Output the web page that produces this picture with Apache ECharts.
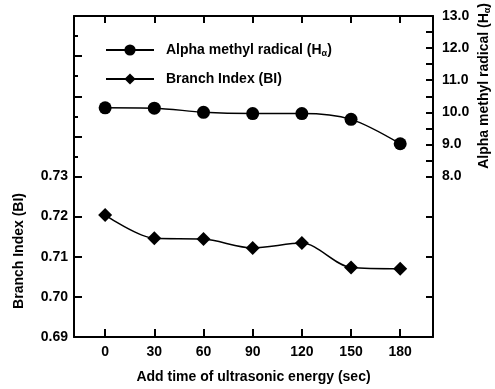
<!DOCTYPE html>
<html>
<head>
<meta charset="utf-8">
<script src="https://cdn.jsdelivr.net/npm/echarts@6/dist/echarts.min.js"></script>
<style>html,body{margin:0;padding:0;background:#fff}#c{width:495px;height:389px}</style>
</head>
<body>
<div id="c"></div>
<script>
const times = [0, 30, 60, 90, 120, 150, 180];
const alphaMethyl = [10.14, 10.13, 10.0, 9.96, 9.96, 9.78, 9.02];
const branchIndex = [0.7204, 0.7146, 0.7144, 0.7122, 0.7134, 0.7073, 0.7070];
const leftTickLabels = [0.69, 0.70, 0.71, 0.72, 0.73];
const rightTickLabels = [8, 9, 10, 11, 12, 13];
const leftTicks = [0.69, 0.70, 0.71, 0.72, 0.73, 0.74, 0.75, 0.76, 0.77];
const leftMinorTicks = [0.735, 0.745, 0.755, 0.765];
const rightTicks = [4.25, 5.5, 6.75, 8, 8.5, 9, 9.5, 10, 10.5, 11, 11.5, 12, 12.5, 13];
const seriesNames = ['Alpha methyl radical', 'Branch Index (BI)'];

const FONT = 'Liberation Sans';
const chart = echarts.init(document.getElementById('c'), null, {renderer: 'canvas'});
const axisLine = {show: true, onZero: false, lineStyle: {color: '#000', width: 2}};
const txt = {fontFamily: FONT, fontWeight: 'bold', fontSize: 14, color: '#000'};
const noTick = {show: false};
// helper axes that only draw inward ticks (line and labels hidden)
const tickAxis = (min, max, pos, len, vals) => ({
  type: 'value', min: min, max: max, position: pos,
  axisLine: {show: false, onZero: false}, splitLine: {show: false}, axisLabel: {show: false},
  axisTick: {show: true, inside: true, length: len, lineStyle: {color: '#000', width: 2}, customValues: vals}
});

chart.setOption({
  animation: false,
  backgroundColor: '#fff',
  grid: {left: 74, right: 62, top: 16, bottom: 47},
  legend: {
    orient: 'vertical', left: 100, top: 38, itemWidth: 48, itemHeight: 14, itemGap: 14,
    data: seriesNames,
    formatter: function (n) { return n === seriesNames[0] ? 'Alpha methyl radical (H{sub|α})' : n; },
    textStyle: Object.assign({}, txt, {fontSize: 14, padding: [0, 0, 0, 7],
      rich: {sub: {fontFamily: FONT, fontWeight: 'bold', fontSize: 9, padding: [7, 0, 0, 0], color: '#000'}}})
  },
  xAxis: [{
    type: 'value', min: -19, max: 200, position: 'bottom',
    axisLine: axisLine, splitLine: {show: false}, axisTick: noTick,
    axisLabel: Object.assign({}, txt, {customValues: times, margin: 8}),
    name: 'Add time of ultrasonic energy (sec)', nameLocation: 'middle', nameGap: 33,
    nameTextStyle: txt
  }, {
    type: 'value', min: -19, max: 200, position: 'top',
    axisLine: axisLine, splitLine: {show: false}, axisTick: noTick,
    axisLabel: {show: false}
  },
  tickAxis(-19, 200, 'bottom', 8, times),
  tickAxis(-19, 200, 'top', 7, times)],
  yAxis: [{
    type: 'value', min: 0.69, max: 0.77, position: 'left',
    axisLine: axisLine, splitLine: {show: false}, axisTick: noTick,
    axisLabel: Object.assign({}, txt, {customValues: leftTickLabels, margin: 6,
      formatter: v => v.toFixed(2)})
  }, {
    type: 'value', min: 3, max: 13, position: 'right',
    axisLine: axisLine, splitLine: {show: false}, axisTick: noTick,
    axisLabel: Object.assign({}, txt, {customValues: rightTickLabels, margin: 9,
      formatter: v => v.toFixed(1)})
  },
  tickAxis(0.69, 0.77, 'left', 8, leftTicks),
  tickAxis(0.69, 0.77, 'left', 4, leftMinorTicks),
  tickAxis(3, 13, 'right', 7, rightTicks)],
  graphic: [{
    type: 'text', left: 12, top: 193, rotation: Math.PI / 2,
    style: {text: 'Branch Index (BI)', font: 'bold 14px "Liberation Sans"', fill: '#000'}
  }, {
    type: 'text', left: 477, top: 3, rotation: Math.PI / 2,
    style: {text: 'Alpha methyl radical (H{sub|α})', font: 'bold 14px "Liberation Sans"', fill: '#000',
      rich: {sub: {font: 'bold 9px "Liberation Sans"', padding: [7, 0, 0, 0], fill: '#000'}}}
  }],
  series: [{
    name: seriesNames[0], type: 'line', xAxisIndex: 0, yAxisIndex: 1,
    data: times.map((t, i) => [t, alphaMethyl[i]]),
    smooth: 0.3, symbol: 'circle', symbolSize: 13,
    lineStyle: {color: '#000', width: 1.5}, itemStyle: {color: '#000'}
  }, {
    name: seriesNames[1], type: 'line', xAxisIndex: 0, yAxisIndex: 0,
    data: times.map((t, i) => [t, branchIndex[i]]),
    smooth: 0.3, symbol: 'diamond', symbolSize: 14,
    lineStyle: {color: '#000', width: 1.5}, itemStyle: {color: '#000'}
  }]
});
</script>
</body>
</html>
